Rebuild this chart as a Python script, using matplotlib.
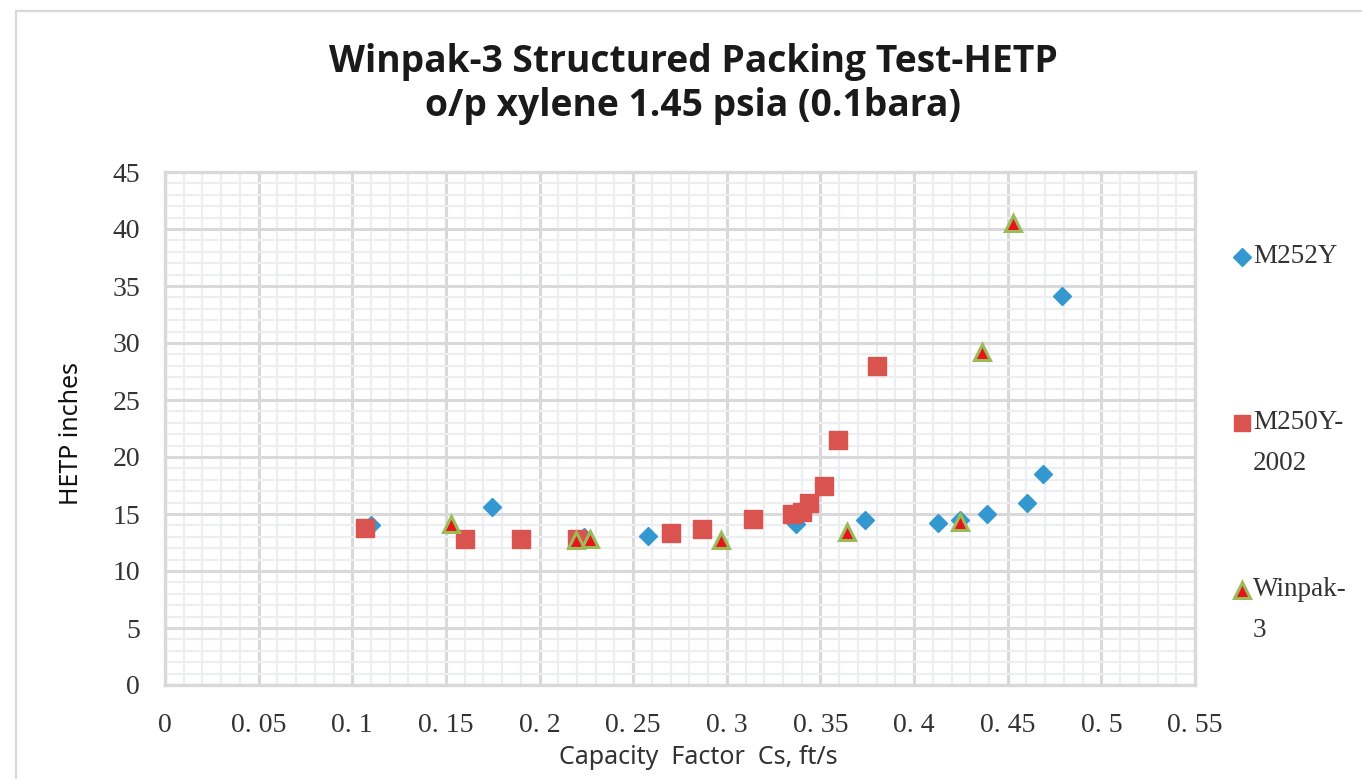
"""
Winpak-3 structured packing HETP test, scatter of three packings.
"""

import matplotlib
matplotlib.use("Agg")
import matplotlib.pyplot as plt
import matplotlib.patches
from matplotlib.ticker import MultipleLocator, FixedLocator, FixedFormatter

# M252Y (blue diamonds)
m252y_cs = [0.110, 0.1745, 0.224, 0.258, 0.337, 0.374, 0.413, 0.4245, 0.439, 0.4605, 0.469, 0.479]
m252y_hetp = [14.0, 15.6, 13.0, 13.1, 14.1, 14.5, 14.2, 14.5, 15.0, 16.0, 18.5, 34.1]

# M250Y-2002 (red squares)
m250y_cs = [0.107, 0.160, 0.190, 0.220, 0.270, 0.287, 0.314, 0.335, 0.340, 0.344, 0.352, 0.3595, 0.380]
m250y_hetp = [13.8, 12.8, 12.8, 12.8, 13.3, 13.7, 14.6, 15.0, 15.2, 16.0, 17.5, 21.5, 28.0]

# Winpak-3 (red triangles, green edge)
winpak_cs = [0.1527, 0.2197, 0.227, 0.297, 0.364, 0.4245, 0.436, 0.4527]
winpak_hetp = [14.1, 12.7, 12.8, 12.7, 13.4, 14.3, 29.2, 40.5]

x_ticks = [0, 0.05, 0.1, 0.15, 0.2, 0.25, 0.3, 0.35, 0.4, 0.45, 0.5, 0.55]
x_ticklabels = ["0", "0. 05", "0. 1", "0. 15", "0. 2", "0. 25", "0. 3",
                "0. 35", "0. 4", "0. 45", "0. 5", "0. 55"]
y_ticks = [0, 5, 10, 15, 20, 25, 30, 35, 40, 45]

legend_labels = ["M252Y", "M250Y-\n2002", "Winpak-\n3"]

BLUE = "#3498D0"
RED = "#D9534F"
TRI_FACE = "#E8141C"
TRI_EDGE = "#9BBB59"
MAJOR = "#D9D9D9"
MINOR = "#ECEEF1"

W, H = 1362, 779
fig = plt.figure(figsize=(W / 100, H / 100), dpi=100)
ax = fig.add_axes([165 / W, 1 - 685 / H, (1195 - 165) / W, (685 - 172) / H])

ax.plot(m252y_cs, m252y_hetp, ls="none", marker="D", ms=8.7, color=BLUE, mec=BLUE, zorder=3)
ax.plot(m250y_cs, m250y_hetp, ls="none", marker="s", ms=12.5, color=RED, mec=RED, zorder=4)
ax.plot(winpak_cs, winpak_hetp, ls="none", marker="^", ms=11, color=TRI_FACE,
        mec=TRI_EDGE, mew=2.2, zorder=5)

ax.set_xlim(0, 0.55)
ax.set_ylim(0, 45)
ax.xaxis.set_major_locator(FixedLocator(x_ticks))
ax.xaxis.set_major_formatter(FixedFormatter(x_ticklabels))
ax.yaxis.set_major_locator(FixedLocator(y_ticks))
ax.xaxis.set_minor_locator(MultipleLocator(0.01))
ax.yaxis.set_minor_locator(MultipleLocator(1))

ax.grid(which="minor", color=MINOR, lw=1.6, zorder=0)
ax.grid(which="major", color=MAJOR, lw=2.2, zorder=1)
ax.set_axisbelow(True)
for s in ax.spines.values():
    s.set_color(MAJOR)
    s.set_linewidth(2.4)

ax.tick_params(which="both", length=0)
ax.tick_params(axis="y", pad=18)
ax.tick_params(axis="x", pad=20)
for lab in ax.get_xticklabels() + ax.get_yticklabels():
    lab.set_fontfamily("Liberation Serif")
    lab.set_fontsize(20)
    lab.set_color("#333333")

ax.set_xlabel("Capacity  Factor  Cs, ft/s", family="Noto Sans", fontsize=18, color="#333333")
ax.xaxis.set_label_coords((698 - 165) / (1195 - 165), -(757 - 685) / (685 - 172), transform=ax.transAxes)
ax.xaxis.label.set_va("center")
ax.set_ylabel("HETP inches", family="Noto Sans", fontsize=18, color="#111111")
ax.yaxis.set_label_coords(-(165 - 72) / (1195 - 165), 0.49)
ax.yaxis.label.set_va("center")

fig.text(693 / W, 1 - 84 / H, "Winpak-3 Structured Packing Test-HETP\no/p xylene 1.45 psia (0.1bara)",
         ha="center", va="center", family="Open Sans", fontweight="bold", fontsize=26.8,
         color="#1a1a1a", linespacing=1.22)

# legend, drawn by hand on the right
leg_marks = [("D", 8.7, BLUE, BLUE, 1), ("s", 12.0, RED, RED, 1), ("^", 11, TRI_FACE, TRI_EDGE, 2.2)]
leg_y = [257, 423, 590]
for (m, ms, fc, ec, mew), lab, y in zip(leg_marks, legend_labels, leg_y):
    fig.lines.append(matplotlib.lines.Line2D([1242 / W], [1 - y / H], marker=m, ms=ms, color=fc,
                                             mec=ec, mew=mew, ls="none",
                                             transform=fig.transFigure, figure=fig))
    fig.text(1253 / W, 1 - (y - 13) / H, lab, ha="left", va="top", family="Liberation Serif",
             fontsize=19.5, color="#333333", linespacing=1.85)

# outer chart frame
fig.patches.append(matplotlib.patches.Rectangle((16 / W, -0.2), 2, 1.2 - 11 / H, fill=False,
                                                edgecolor=MAJOR, lw=1.6,
                                                transform=fig.transFigure, figure=fig))

fig.savefig("out.png", dpi=100)
